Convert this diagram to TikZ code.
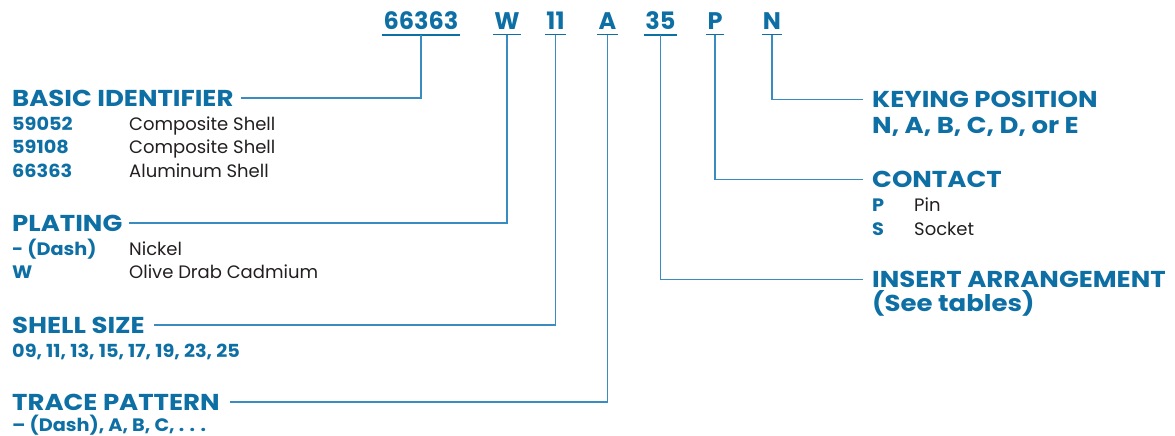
\documentclass[tikz,border=0pt]{standalone}
\usepackage{fontspec}
\setmainfont{Poppins}
\newfontfamily\hfont[FakeStretch=1.13]{Poppins}
\newfontfamily\kfont[FakeStretch=1.07]{Poppins}
\definecolor{blu}{HTML}{0E6FA5}
\definecolor{lin}{HTML}{3A8CC0}
\definecolor{txt}{HTML}{231F20}
\begin{document}
\begin{tikzpicture}[x=1pt,y=-1pt,
  codetxt/.style={font=\bfseries\fontsize{24}{24}\selectfont, text=blu, anchor=base, inner xsep=1, inner ysep=4.5},
  head/.style={font=\hfont\bfseries\fontsize{23}{23}\selectfont, text=blu, anchor=base west, inner sep=0},
  keyt/.style={font=\kfont\bfseries\fontsize{18}{18}\selectfont, text=blu, anchor=base west, inner sep=0},
  desc/.style={font=\fontsize{18}{18}\selectfont, text=txt, anchor=base west, inner sep=0},
  conn/.style={draw=lin, line width=1.5},
  uline/.style={draw=blu, line width=1.5}]
\useasboundingbox (0,0) rectangle (1175,436);
% part number
\node[codetxt] (c1) at (421,30) {66363};
\node[codetxt] (c2) at (507,30) {W};
\node[codetxt] (c3) at (555.5,30) {11};
\node[codetxt] (c4) at (607.5,30) {A};
\node[codetxt] (c5) at (660.5,30) {35};
\node[codetxt] (c6) at (715,30) {P};
\node[codetxt] (c7) at (772,30) {N};
\foreach \c in {c1,c2,c3,c4,c5,c6,c7}
  \draw[uline] (\c.south west) -- (\c.south east);
% left headings
\node[head] (basic) at (12,106) {BASIC IDENTIFIER};
\node[keyt] (k1) at (12,130) {59052};
\node[desc] (d1) at (129,130) {Composite Shell};
\node[keyt] (k2) at (12,153.5) {59108};
\node[desc] (d2) at (129,153.5) {Composite Shell};
\node[keyt] (k3) at (12,177.5) {66363};
\node[desc] (d3) at (129,177.5) {Aluminum Shell};
\node[head] (plat) at (12,231) {PLATING};
\node[keyt] (k4) at (12,255) {- (Dash)};
\node[desc] (d4) at (129,255) {Nickel};
\node[keyt] (k5) at (12,278.5) {W};
\node[desc] (d5) at (129,278.5) {Olive Drab Cadmium};
\node[head] (shell) at (12,333) {SHELL SIZE};
\node[keyt] (k6) at (12,357.5) {09, 11, 13, 15, 17, 19, 23, 25};
\node[head] (trace) at (12,410) {TRACE PATTERN};
\node[keyt] (k7) at (12,431.5) {– (Dash), A, B, C, . . .};
% right headings
\node[head] (keying) at (872,107.5) {KEYING POSITION};
\node[head] (keyv) at (872,133.5) {N, A, B, C, D, or E};
\node[head] (contact) at (872,187.5) {CONTACT};
\node[keyt] (k8) at (872,211) {P};
\node[desc] (d8) at (914,211) {Pin};
\node[keyt] (k9) at (872,235) {S};
\node[desc] (d9) at (914,235) {Socket};
\node[head] (insert) at (872,287.5) {INSERT ARRANGEMENT};
\node[head] (seet) at (872,311.5) {(See tables)};
% connectors
\draw[conn, shorten >=7] (c1.south) |- (basic.east);
\draw[conn, shorten >=6] (c2.south) |- (plat.east);
\draw[conn, shorten >=9] (c3.south) |- (shell.east);
\draw[conn, shorten >=10] (c4.south) |- (trace.east);
\draw[conn, shorten >=9] (c5.south) |- (insert.west);
\draw[conn, shorten >=9] (c6.south) |- (contact.west);
\draw[conn, shorten >=9] (c7.south) |- (keying.west);
\end{tikzpicture}
\end{document}
